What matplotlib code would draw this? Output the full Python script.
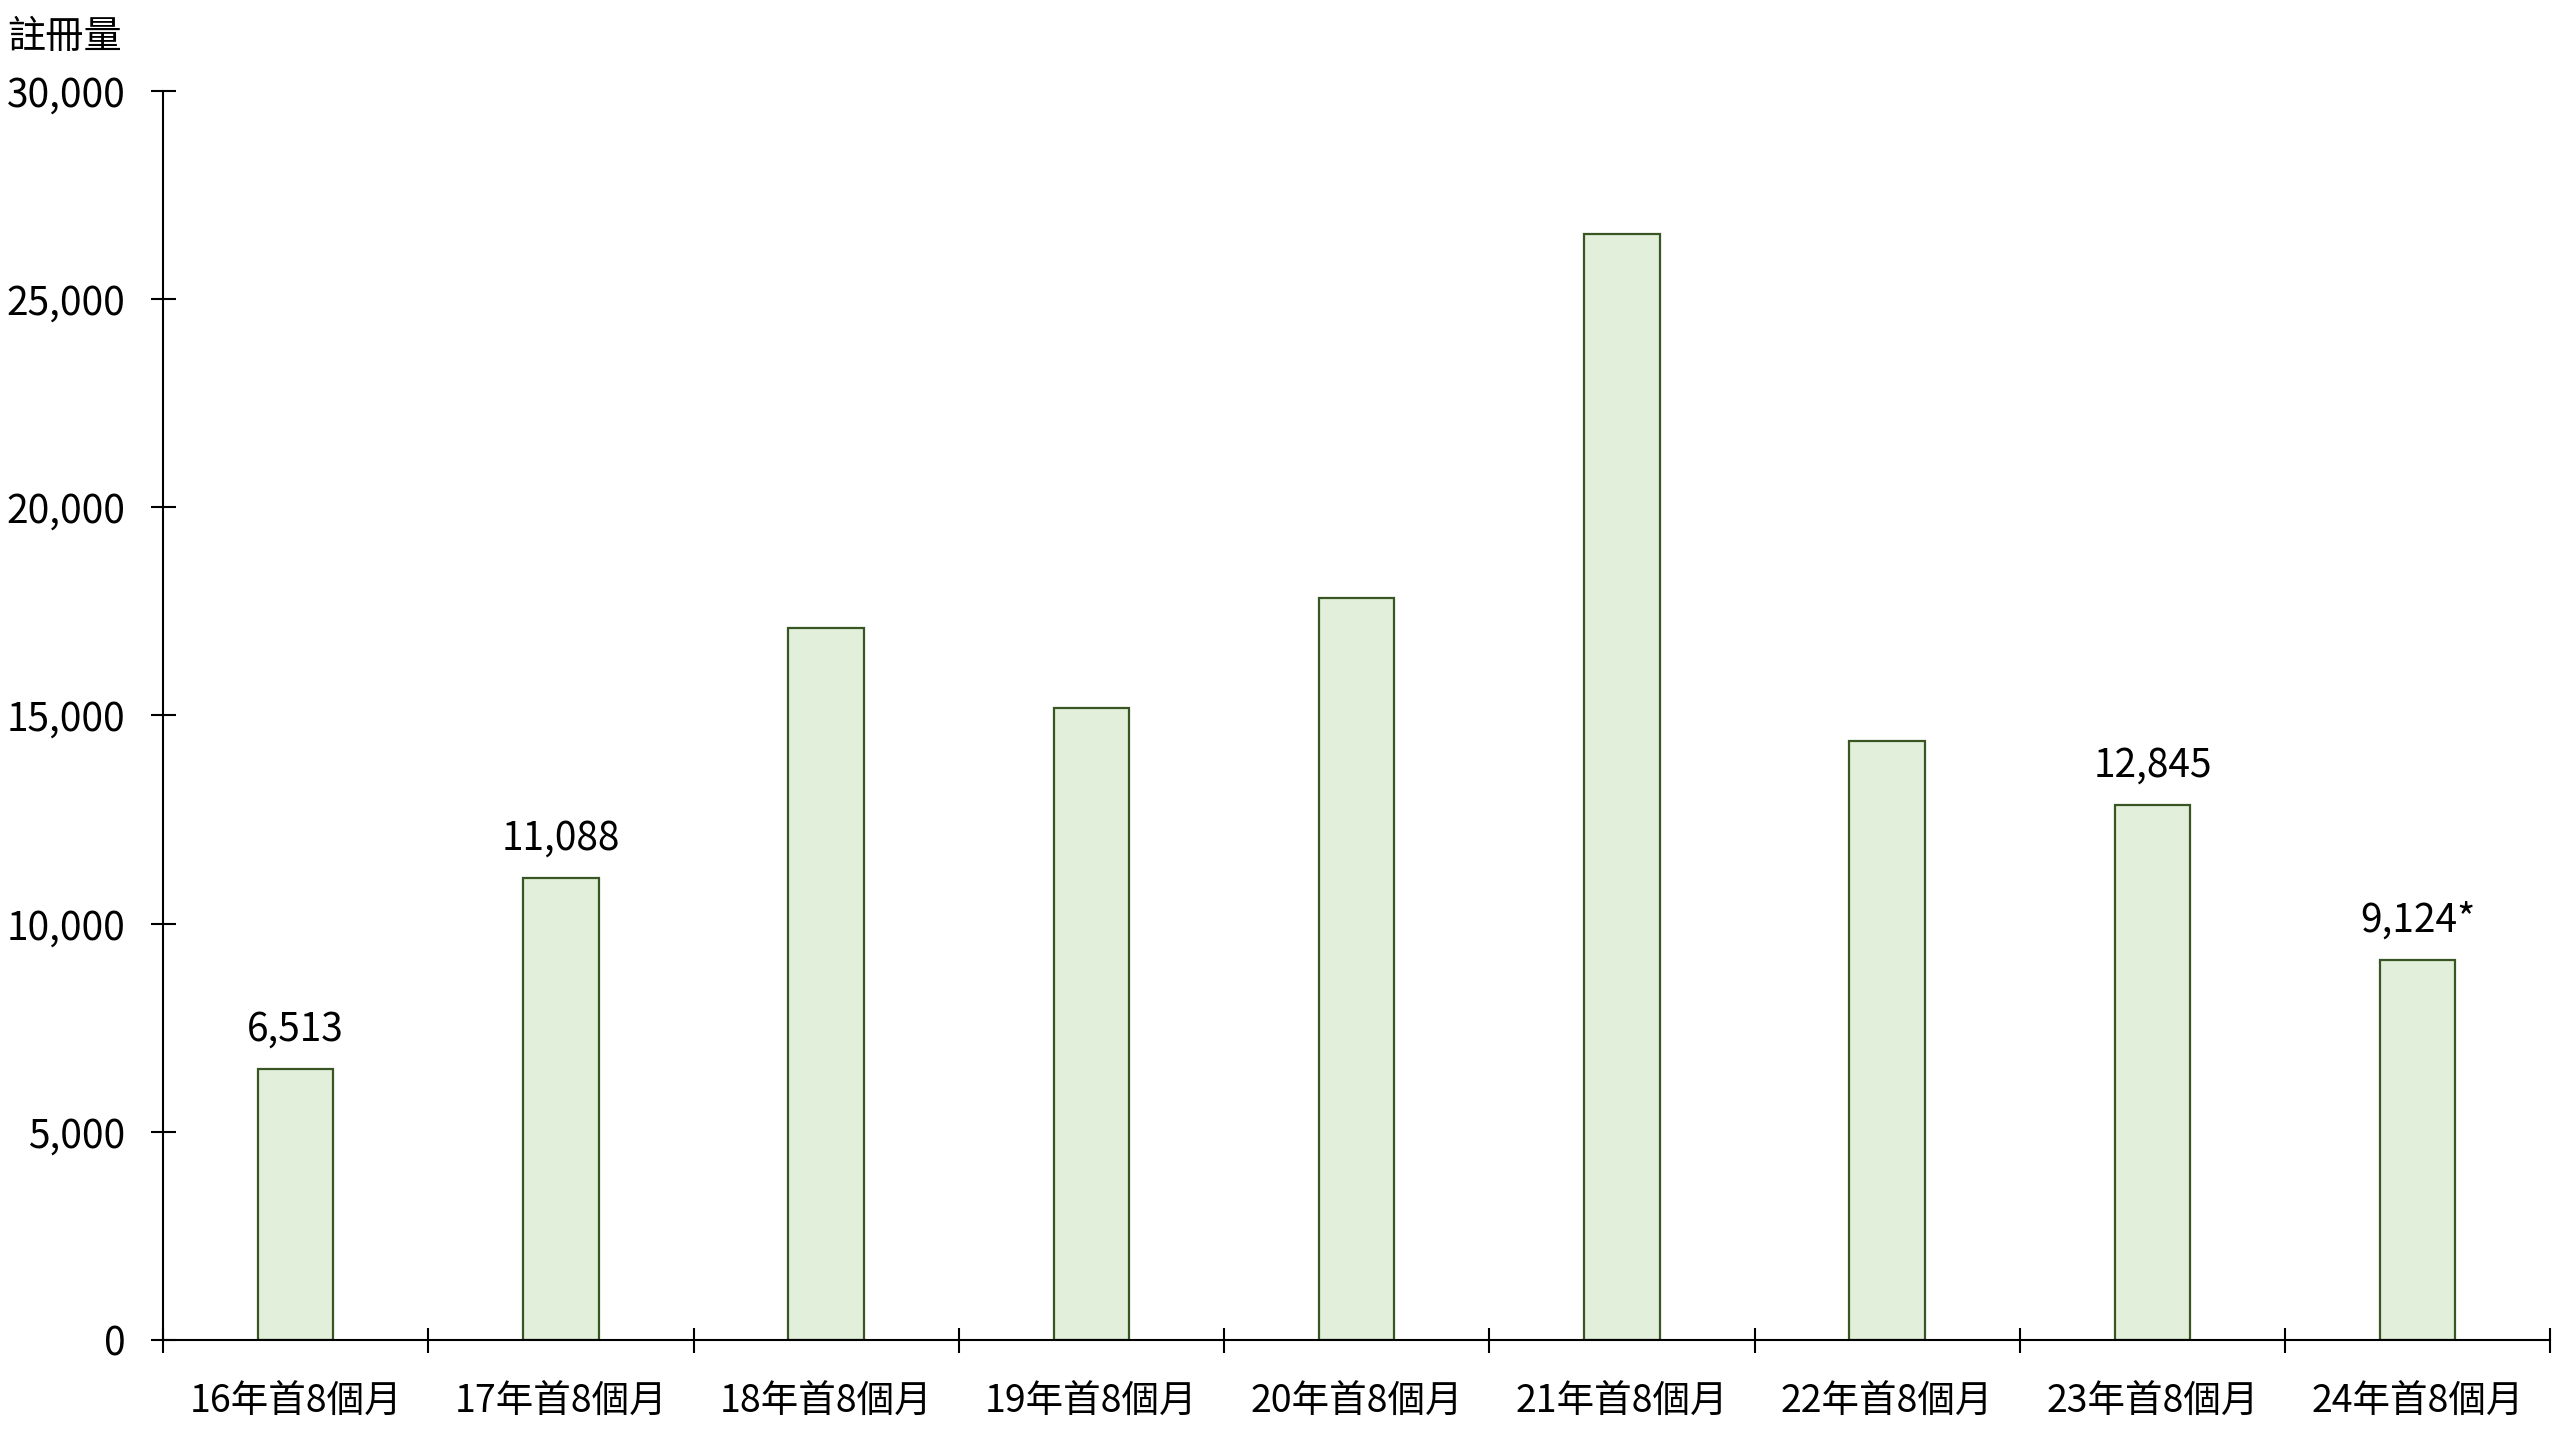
import matplotlib
matplotlib.use("Agg")
from matplotlib import pyplot as plt
import numpy as np

plt.rcParams['font.family'] = ['Noto Sans CJK TC', 'DejaVu Sans']

categories = ["16年首8個月", "17年首8個月", "18年首8個月", "19年首8個月", "20年首8個月",
              "21年首8個月", "22年首8個月", "23年首8個月", "24年首8個月"]
registrations = [6513, 11088, 17090, 15170, 17810, 26550, 14380, 12845, 9124]
# only some bars carry a value label in the original
bar_labels = ["6,513", "11,088", "", "", "", "", "", "12,845", "9,124*"]
y_ticks = [0, 5000, 10000, 15000, 20000, 25000, 30000]

fig = plt.figure(figsize=(25.6, 14.4), dpi=100)
ax = fig.add_axes([0.0637, 0.0694, 0.9325, 0.8676])

x = np.arange(len(categories))
ax.bar(x, registrations, width=0.285, color='#E2EFDA', edgecolor='#375623', linewidth=1.6)

# Add value labels above bars
for i, (val, lab) in enumerate(zip(registrations, bar_labels)):
    if lab:
        ax.annotate(lab, (i, val), xytext=(0, 14), textcoords='offset points',
                    ha='center', va='bottom', fontsize=28)

ax.set_xlim(-0.5, len(categories) - 0.5)
ax.set_ylim(0, 30000)

ax.set_yticks(y_ticks)
ax.set_yticklabels([f"{t:,}" for t in y_ticks], fontsize=28)
ax.tick_params(axis='y', direction='inout', length=18, width=1.5, pad=18)

ax.set_xticks(x)
ax.set_xticklabels(categories, fontsize=27)
ax.set_xticks(np.arange(len(categories) + 1) - 0.5, minor=True)
ax.tick_params(axis='x', which='major', length=0, pad=31)
ax.tick_params(axis='x', which='minor', direction='inout', length=18, width=1.5)

for side in ['top', 'right']:
    ax.spines[side].set_visible(False)
for side in ['left', 'bottom']:
    ax.spines[side].set_linewidth(1.5)

fig.text(0.003, 0.974, "註冊量", fontsize=27.5, ha='left', va='center')

fig.savefig("out.png", dpi=100)
